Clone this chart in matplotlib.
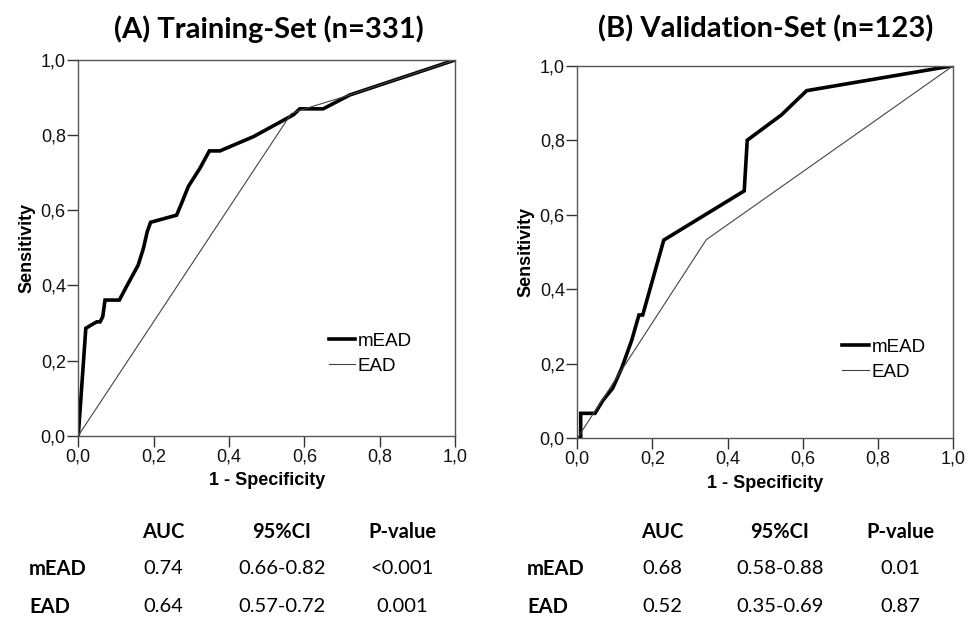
import matplotlib.pyplot as plt

plt.rcParams['font.family'] = ['Liberation Sans', 'DejaVu Sans']

# ROC data
train_mead_x = [0.0, 0.020, 0.035, 0.049, 0.058, 0.065, 0.071, 0.109, 0.128, 0.159, 0.173, 0.183,
                0.192, 0.261, 0.274, 0.292, 0.323, 0.348, 0.376, 0.465, 0.571, 0.588, 0.650, 0.721, 1.0]
train_mead_y = [0.0, 0.286, 0.295, 0.303, 0.303, 0.317, 0.361, 0.361, 0.397, 0.454, 0.499, 0.543,
                0.568, 0.587, 0.618, 0.663, 0.712, 0.758, 0.758, 0.796, 0.854, 0.870, 0.870, 0.907, 1.0]
train_ead_x = [0.0, 0.565, 0.588, 0.721, 1.0]
train_ead_y = [0.0, 0.857, 0.866, 0.907, 1.0]

valid_mead_x = [0.0, 0.009, 0.009, 0.047, 0.069, 0.094, 0.118, 0.145, 0.164, 0.174, 0.230,
                0.444, 0.452, 0.543, 0.610, 1.0]
valid_mead_y = [0.0, 0.0, 0.067, 0.067, 0.103, 0.134, 0.188, 0.264, 0.331, 0.331, 0.532,
                0.664, 0.800, 0.868, 0.933, 1.0]
valid_ead_x = [0.0, 0.343, 1.0]
valid_ead_y = [0.0, 0.533, 1.0]

ticks = [0.0, 0.2, 0.4, 0.6, 0.8, 1.0]
tick_labels = ['0,0', '0,2', '0,4', '0,6', '0,8', '1,0']

col_header = ['AUC', '95%CI', 'P-value']
train_rows = ['mEAD', 'EAD']
train_auc = ['0.74', '0.64']
train_ci = ['0.66-0.82', '0.57-0.72']
train_p = ['<0.001', '0.001']
valid_auc = ['0.68', '0.52']
valid_ci = ['0.58-0.88', '0.35-0.69']
valid_p = ['0.01', '0.87']

fig = plt.figure(figsize=(9.76, 6.21), dpi=100)
ax1 = fig.add_axes([0.0802, 0.2984, 0.386, 0.605])
ax2 = fig.add_axes([0.5915, 0.2942, 0.3852, 0.600])


def roc_panel(ax, mx, my, ex, ey, title, title_x, leg_xy):
    ax.plot(mx, my, color='black', lw=2.6, label='mEAD', solid_joinstyle='miter')
    ax.plot(ex, ey, color='#444444', lw=0.8, label='EAD')
    ax.set_xlim(0, 1)
    ax.set_ylim(0, 1)
    ax.set_xticks(ticks)
    ax.set_xticklabels(tick_labels)
    ax.set_yticks(ticks)
    ax.set_yticklabels(tick_labels)
    ax.tick_params(direction='out', length=8, width=1, color='#333333',
                   labelsize=13, labelcolor='#111111', pad=1)
    for s in ax.spines.values():
        s.set_color('#555555')
        s.set_linewidth(1)
    ax.set_xlabel('1 - Specificity', fontsize=13, fontweight='bold', labelpad=5)
    ax.set_ylabel('Sensitivity', fontsize=13, fontweight='bold', labelpad=4)
    fig.text(title_x / 976, 1 - 29 / 621, title, ha='center', va='center',
             fontsize=21, fontweight='bold', family='Lato')
    ax.legend(loc='upper left', bbox_to_anchor=leg_xy, frameon=False, fontsize=13.5,
              handlelength=1.4, handletextpad=0.15, borderpad=0, borderaxespad=0,
              labelspacing=0.4)


roc_panel(ax1, train_mead_x, train_mead_y, train_ead_x, train_ead_y,
          '(A) Training-Set (n=331)', 269, (0.665, 0.274))
roc_panel(ax2, valid_mead_x, valid_mead_y, valid_ead_x, valid_ead_y,
          '(B) Validation-Set (n=123)', 766, (0.705, 0.267))


def table(x_row, x_cols, auc, ci, p):
    ys = [1 - 532 / 621, 1 - 569 / 621, 1 - 607 / 621]
    for x, h in zip(x_cols, col_header):
        fig.text(x / 976, ys[0], h, ha='center', va='center', fontsize=14.5,
                 fontweight='bold', family='Lato')
    for i, name in enumerate(train_rows):
        y = ys[i + 1]
        fig.text(x_row / 976, y, name, ha='left', va='center', fontsize=14.5,
                 fontweight='bold', family='Lato')
        for x, v in zip(x_cols, [auc[i], ci[i], p[i]]):
            fig.text(x / 976, y, v, ha='center', va='center', fontsize=14.5, family='Lato')


table(29, [163, 282, 402], train_auc, train_ci, train_p)
table(527, [662, 780, 900], valid_auc, valid_ci, valid_p)

fig.savefig('out.png', dpi=100)
